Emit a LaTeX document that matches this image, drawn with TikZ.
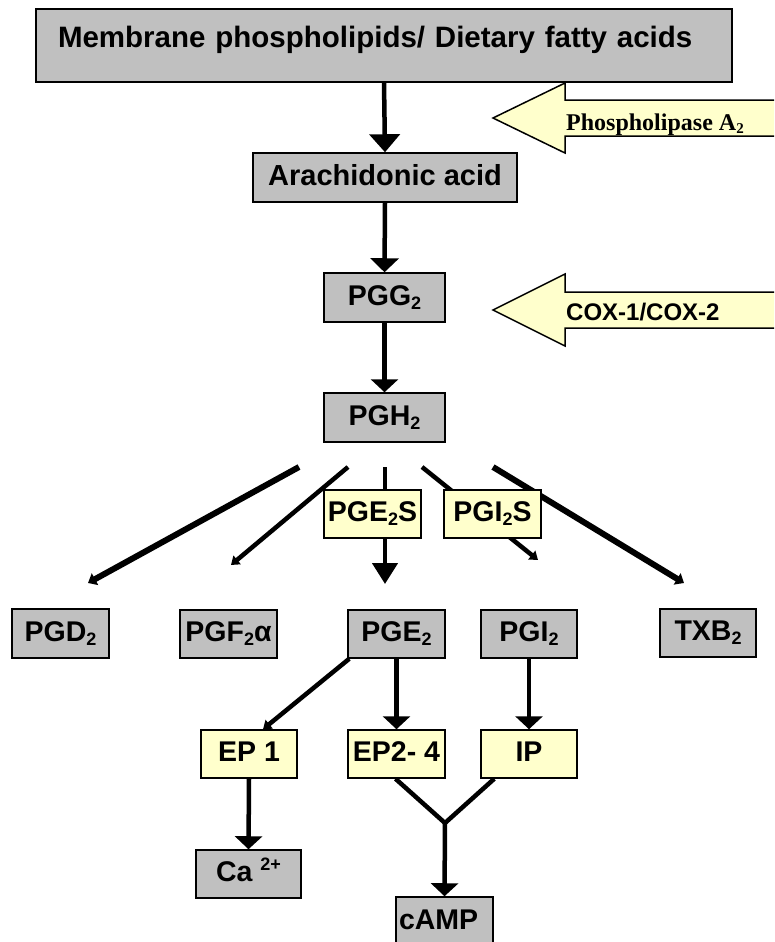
\documentclass[tikz,border=0pt]{standalone}
\usepackage{fontspec}
\setmainfont{Liberation Sans}
\newfontfamily\serifbf{Liberation Serif}
\usetikzlibrary{arrows.meta}
\definecolor{boxgray}{HTML}{C0C0C0}
\definecolor{boxyellow}{HTML}{FFFFCC}
\newcommand{\sbs}[1]{\raisebox{-4pt}{\fontsize{18}{18}\selectfont #1}}
\newcommand{\sps}[1]{\raisebox{11pt}{\fontsize{18}{18}\selectfont #1}}
\begin{document}
\begin{tikzpicture}[x=1pt,y=-1pt,
  box/.style={draw=black, line width=1.5pt, inner sep=0pt, text height=21pt, text depth=6pt,
              font=\fontsize{28.5}{30}\selectfont\bfseries},
  graybox/.style={box, fill=boxgray},
  yellowbox/.style={box, fill=boxyellow},
  flow/.style={line width=4.5pt, -{Triangle[width=27pt,length=13pt]}},
  thinflow/.style={line width=4.5pt, -{Triangle[width=11pt,length=8pt]}},
  thickflow/.style={line width=6pt, -{Triangle[width=13pt,length=8pt]}},
  bigarrow/.style={draw=black, line width=1.5pt, fill=boxyellow, line join=miter},
  plain/.style={line width=4.5pt},
]
\useasboundingbox (0,0) rectangle (774,942);
\clip (0,0) rectangle (774,942);

% enzyme block arrows
\draw[bigarrow] (493,118) -- (565,83) -- (565,100) -- (790,100) -- (790,136) -- (565,136) -- (565,153) -- cycle;
\begin{scope}
  \clip (565,100) rectangle (790,136);
  \node[anchor=base west, inner sep=0pt, font=\serifbf\fontsize{24}{24}\selectfont\bfseries] (pla) at (566,130)
    {Phospholipase A\raisebox{-3pt}{\fontsize{15}{15}\selectfont 2}};
\end{scope}
\draw[bigarrow] (493,310) -- (565,274) -- (565,292) -- (790,292) -- (790,328) -- (565,328) -- (565,346) -- cycle;
\node[anchor=base west, inner sep=0pt, font=\fontsize{24}{24}\selectfont\bfseries] (cox) at (566,320) {COX-1/COX-2};

% main boxes
\node[graybox, minimum width=696pt, minimum height=73pt, text width=652pt, align=left,
      text height=39pt, text depth=34pt, font=\fontsize{29.5}{30}\selectfont\bfseries] (membrane) at (384,45.5)
  {Membrane phospholipids/ Dietary fatty acids};
\node[graybox, minimum width=264pt, minimum height=49pt, font=\fontsize{29}{30}\selectfont\bfseries] (arach) at (385,177.5) {Arachidonic acid};
\node[graybox, minimum width=121pt, minimum height=49pt] (pgg) at (384.5,297.5) {PGG\sbs{2}};
\node[graybox, minimum width=121pt, minimum height=49pt] (pgh) at (384.5,417.5) {PGH\sbs{2}};

\draw[flow, -{Triangle[width=30pt,length=18pt]}] (membrane.south) -- (arach.north);
\draw[flow, -{Triangle[width=28pt,length=14pt]}] (arach.south) -- (pgg.north);
\draw[flow] (pgg.south) -- (pgh.north);

% fan from PGH2
\coordinate (f1) at (299,467); \coordinate (e1) at (88,583);
\coordinate (f2) at (348,467); \coordinate (e2) at (231,565);
\coordinate (f3) at (385,467); \coordinate (e3) at (385,584);
\coordinate (f4) at (422,467); \coordinate (e4) at (538,560);
\coordinate (f5) at (493,467); \coordinate (e5) at (684,583);
\draw[thickflow] (f1) -- (e1);
\draw[thinflow] (f2) -- (e2);
\draw[flow, -{Triangle[width=25pt,length=21pt]}] (f3) -- (e3);
\draw[thinflow] (f4) -- (e4);
\draw[thickflow] (f5) -- (e5);

\node[yellowbox, minimum width=97pt, minimum height=48pt] (pge2s) at (372.5,514) {PGE\sbs{2}S};
\node[yellowbox, minimum width=97pt, minimum height=48pt] (pgi2s) at (492.5,514) {PGI\sbs{2}S};

% products
\node[graybox, minimum width=97pt, minimum height=49pt] (pgd) at (60.5,633.5) {PGD\sbs{2}};
\node[graybox, minimum width=97pt, minimum height=48pt] (pgf) at (228.5,634) {PGF\sbs{2}α};
\node[graybox, minimum width=97pt, minimum height=48pt] (pge) at (396.5,634) {PGE\sbs{2}};
\node[graybox, minimum width=96pt, minimum height=48pt] (pgi) at (529,634) {PGI\sbs{2}};
\node[graybox, minimum width=96pt, minimum height=48pt] (txb) at (708,633) {TXB\sbs{2}};

% receptors
\node[yellowbox, minimum width=96pt, minimum height=48pt] (ep1) at (249,754) {EP 1};
\node[yellowbox, minimum width=97pt, minimum height=48pt] (ep24) at (396.5,754) {EP2- 4};
\node[yellowbox, minimum width=96pt, minimum height=48pt] (ip) at (529,754) {IP};

\node[graybox, minimum width=105pt, minimum height=48pt] (ca) at (248.5,874) {Ca \sps{2+}};
\node[graybox, minimum width=97pt, minimum height=49pt, text width=91pt, align=left] (camp) at (444.5,921.5) {cAMP};

\draw[thinflow] ([xshift=2pt]pge.south west) -- ([xshift=14pt]ep1.north);
\draw[flow] (pge.south) -- (ep24.north);
\draw[flow] (pgi.south) -- (ip.north);
\draw[flow] (ep1.south) -- (ca.north);

\coordinate (j) at (445,823);
\draw[plain, line join=miter] ([xshift=-1pt]ep24.south) -- (j) -- ([xshift=14pt]ip.south west);
\draw[flow] (j) -- (camp.north);
\end{tikzpicture}
\end{document}
